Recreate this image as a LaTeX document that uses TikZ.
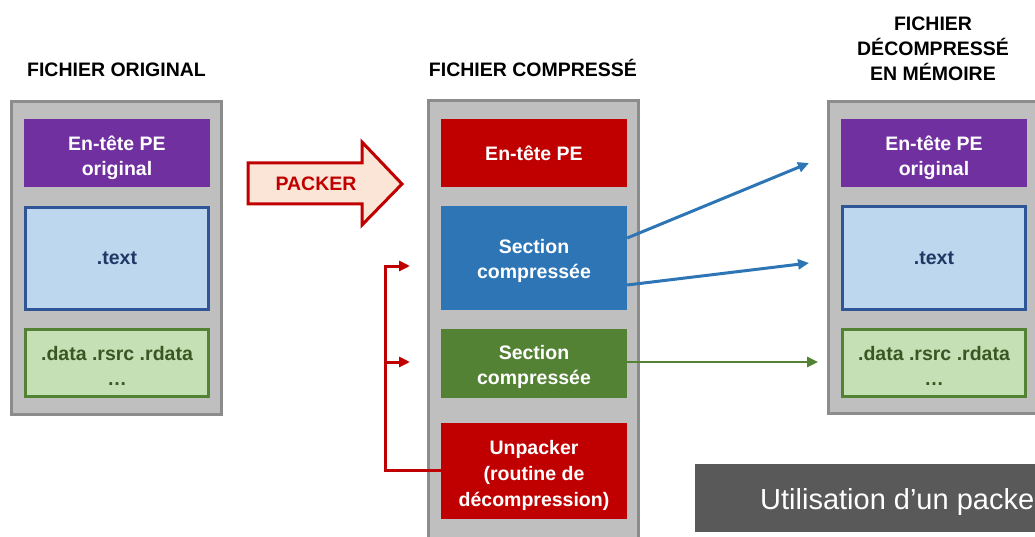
\documentclass[tikz,border=0pt]{standalone}
\usepackage{fontspec}
\setmainfont{Liberation Sans}
\usepackage{tikz}
\usetikzlibrary{arrows.meta}
\usepackage{xcolor}
\definecolor{grisfond}{HTML}{BFBFBF}
\definecolor{grisbord}{HTML}{8C8C8C}
\definecolor{grisfonce}{HTML}{595959}
\definecolor{violetpe}{HTML}{7030A0}
\definecolor{rougepe}{HTML}{C00000}
\definecolor{rosepacker}{HTML}{FBE5D6}
\definecolor{bleusec}{HTML}{2E75B6}
\definecolor{bleuclair}{HTML}{BDD7EE}
\definecolor{bleubord}{HTML}{2F5597}
\definecolor{bleutexte}{HTML}{203864}
\definecolor{vertsec}{HTML}{548235}
\definecolor{vertclair}{HTML}{C5E0B4}
\definecolor{verttexte}{HTML}{385723}
\newcommand{\txtbloc}{\fontsize{19.5}{25}\selectfont\bfseries}

\begin{document}
\begin{tikzpicture}[x=1pt,y=-1pt,
        conteneur/.style={draw=grisbord, fill=grisfond, line width=3pt, minimum width=210pt, inner sep=0pt},
        bloc/.style={minimum width=186pt, inner sep=0pt, align=center, font=\txtbloc, text=white},
        blocbord/.style={bloc, line width=3pt, minimum width=183pt},
        txt/.style={font=\txtbloc, align=center, inner sep=0pt, text=white},
        titre/.style={font=\txtbloc, align=center, inner sep=0pt},
        fleche/.style={line width=3pt, -{Triangle[length=11pt,width=10pt]}}]
        \useasboundingbox (0,0) rectangle (1035,537);
        \clip (0,0) rectangle (1035,537);

        % Fichier original
        \node[titre, anchor=base] (torig) at (116.5,77) {FICHIER ORIGINAL};
        \node[conteneur, minimum height=313pt] (orig) at (116.5,258) {};
        \node[bloc, fill=violetpe, minimum height=68pt,
            label={[txt, yshift=-5pt]center:En-tête PE\\original}] (origpe) at (117,153) {};
        \node[blocbord, fill=bleuclair, draw=bleubord, text=bleutexte, minimum height=102pt] (origtext) at (117,258.5) {.text};
        \node[blocbord, fill=vertclair, draw=vertsec, minimum height=67pt,
            label={[txt, text=verttexte, yshift=-3pt]center:.data .rsrc .rdata\\…}] (origdata) at (117,363) {};

        % Packer
        \filldraw[fill=rosepacker, draw=rougepe, line width=3pt, line join=miter]
            (248,163) -- (362,163) -- (362,142) -- (402,184) -- (362,225) -- (362,204) -- (248,204) -- cycle;
        \node[titre, text=rougepe] (packer) at (316,184) {PACKER};

        % Fichier compresse
        \node[titre, anchor=base] (tcomp) at (533,77) {FICHIER COMPRESSÉ};
        \node[conteneur, minimum height=460pt] (comp) at (533,331) {};
        \node[bloc, fill=rougepe, minimum height=68pt] (comppe) at (534,153) {En-tête PE};
        \node[bloc, fill=bleusec, minimum height=104pt,
            label={[txt, yshift=-3pt]center:Section\\compressée}] (sec1) at (534,258) {};
        \node[bloc, fill=vertsec, minimum height=69pt,
            label={[txt, yshift=-3pt]center:Section\\compressée}] (sec2) at (534,363.5) {};
        \node[bloc, fill=rougepe, minimum height=96pt,
            label={[txt, font=\fontsize{19.5}{26}\selectfont\bfseries, yshift=-4pt]center:Unpacker\\(routine de\\décompression)}] (unpack) at (534,471) {};

        % Fichier decompresse
        \node[titre] (tdecomp) at (933,49) {FICHIER\\DÉCOMPRESSÉ\\EN MÉMOIRE};
        \node[conteneur, minimum height=312pt] (decomp) at (933.5,257.5) {};
        \node[bloc, fill=violetpe, minimum height=68pt,
            label={[txt, yshift=-5pt]center:En-tête PE\\original}] (decpe) at (934,153) {};
        \node[blocbord, fill=bleuclair, draw=bleubord, text=bleutexte, minimum height=102pt] (dectext) at (934,258) {.text};
        \node[blocbord, fill=vertclair, draw=vertsec, minimum height=67pt,
            label={[txt, text=verttexte, yshift=-3pt]center:.data .rsrc .rdata\\…}] (decdata) at (934,363) {};

        % Decompression
        \coordinate (cible1) at (809,163);
        \coordinate (cible2) at (809,263);
        \coordinate (cible3) at (818,362);
        \draw[fleche, bleusec] ([yshift=20pt]sec1.east) -- (cible1);
        \draw[fleche, bleusec] ([yshift=-27pt]sec1.east) -- (cible2);
        \draw[fleche, vertsec, line width=2.5pt] ([yshift=1.5pt]sec2.east) -- (cible3);

        % Unpacker
        \coordinate (coude) at (385,470);
        \coordinate (entree1) at (410,266);
        \coordinate (entree2) at (410,362);
        \draw[fleche, rougepe] (unpack.west |- coude) -- (coude) |- (entree1);
        \draw[fleche, rougepe] (coude |- entree2) -- (entree2);

        % Legende
        \node[fill=grisfonce, anchor=north west, minimum width=360pt, minimum height=68pt, inner sep=0pt] (legende) at (695,464) {};
        \node[anchor=base west, text=white, font=\fontsize{29}{30}\selectfont, inner sep=0pt] (legtexte) at (760,509) {Utilisation d’un packer};
    \end{tikzpicture}
\end{document}
